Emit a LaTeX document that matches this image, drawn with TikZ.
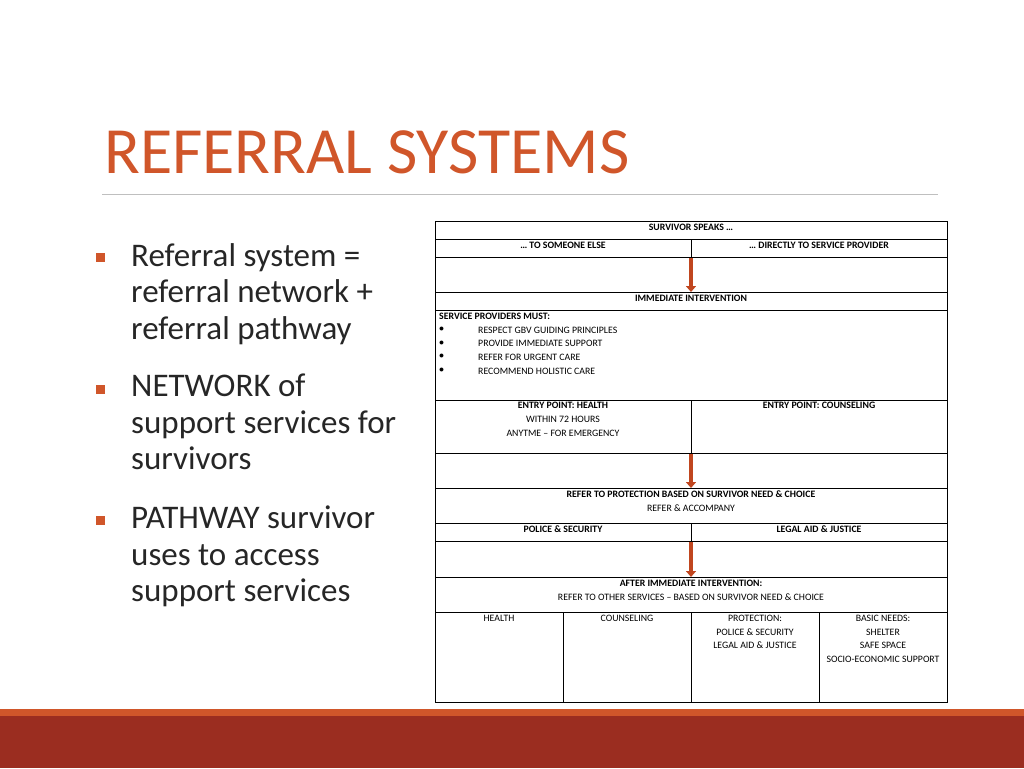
\documentclass[tikz,border=0pt]{standalone}
\usepackage{fontspec}
\setmainfont{Carlito}
\usetikzlibrary{arrows.meta}
\definecolor{titleorange}{HTML}{D0562A}
\definecolor{bandred}{HTML}{9B2D20}
\definecolor{arrowred}{HTML}{C0461F}
\tikzset{
  cellline/.style={line width=1pt, black},
  tab/.style={font=\fontsize{9.8}{13.7}\selectfont, align=center, anchor=north, inner sep=0pt},
  tabb/.style={tab, font=\fontsize{9.8}{13.7}\selectfont\bfseries},
  flow/.style={line width=3.5pt, arrowred, -{Triangle[width=10pt,length=6pt]}},
  bul/.style={fill=titleorange, minimum size=9pt, inner sep=0pt},
  btext/.style={font=\fontsize{33}{36.5}\selectfont, text=black!85, align=left, anchor=north west, inner sep=0pt}
}
\begin{document}
\begin{tikzpicture}[x=1pt,y=-1pt]
    \useasboundingbox (0,0) rectangle (1024,768);
    % title
    \node[anchor=base west, inner sep=0pt, text=titleorange, font=\fontsize{66}{66}\selectfont] (title) at (104,173) {REFERRAL SYSTEMS};
    \draw[black!25, line width=0.8pt] (102,194) -- (938,194);
    % bullets
    \node[bul] (b1) at (100,257) {};
    \node[btext] (t1) at (131,243) {Referral system =\\referral network +\\referral pathway};
    \node[bul] (b2) at (100,389) {};
    \node[btext] (t2) at (131,374) {NETWORK of\\support services for\\survivors};
    \node[bul] (b3) at (100,520) {};
    \node[btext] (t3) at (131,506) {PATHWAY survivor\\uses to access\\support services};
    % table rows
    \draw[cellline] (435,221) rectangle (947,702);
    \foreach \y in {239,257,292,310,400,453,488,523,541,577,612}
        \draw[cellline] (435,\y) -- (947,\y);
    \draw[cellline] (691,239) -- (691,257);
    \draw[cellline] (691,400) -- (691,453);
    \draw[cellline] (691,523) -- (691,541);
    \foreach \x in {563,691,819}
        \draw[cellline] (\x,612) -- (\x,702);
    % cell texts
    \node[tabb] (speaks) at (691,224) {SURVIVOR SPEAKS …};
    \node[tabb] (else) at (563,242) {… TO SOMEONE ELSE};
    \node[tabb] (direct) at (819,242) {… DIRECTLY TO SERVICE PROVIDER};
    \node[tabb] (immed) at (691,295) {IMMEDIATE INTERVENTION};
    \node[tabb, anchor=north west] (must) at (439,313) {SERVICE PROVIDERS MUST:};
    \foreach \t [count=\i] in {RESPECT GBV GUIDING PRINCIPLES,PROVIDE IMMEDIATE SUPPORT,REFER FOR URGENT CARE,RECOMMEND HOLISTIC CARE}{
        \node[tab, anchor=north west] (dot\i) at (439,313+13.7*\i) {$\bullet$};
        \node[tab, anchor=north west] (must\i) at (478,313+13.7*\i) {\t};
    }
    \node[tab] (health) at (563,402) {\textbf{ENTRY POINT: HEALTH}\\WITHIN 72 HOURS\\ANYTME – FOR EMERGENCY};
    \node[tabb] (couns) at (819,402) {ENTRY POINT: COUNSELING};
    \node[tab] (protect) at (691,491) {\textbf{REFER TO PROTECTION BASED ON SURVIVOR NEED \& CHOICE}\\REFER \& ACCOMPANY};
    \node[tabb] (police) at (563,526) {POLICE \& SECURITY};
    \node[tabb] (legal) at (819,526) {LEGAL AID \& JUSTICE};
    \node[tab] (after) at (691,580) {\textbf{AFTER IMMEDIATE INTERVENTION:}\\REFER TO OTHER SERVICES – BASED ON SURVIVOR NEED \& CHOICE};
    \node[tab] (shealth) at (499,615) {HEALTH};
    \node[tab] (scouns) at (627,615) {COUNSELING};
    \node[tab] (sprot) at (755,615) {PROTECTION:\\POLICE \& SECURITY\\LEGAL AID \& JUSTICE};
    \node[tab] (sbasic) at (883,615) {BASIC NEEDS:\\SHELTER\\SAFE SPACE\\SOCIO-ECONOMIC SUPPORT};
    % arrows
    \coordinate (a1) at (691,258); \coordinate (a1e) at (691,292);
    \coordinate (a2) at (691,454); \coordinate (a2e) at (691,488);
    \coordinate (a3) at (691,542); \coordinate (a3e) at (691,577);
    \draw[flow] (a1) -- (a1e);
    \draw[flow] (a2) -- (a2e);
    \draw[flow] (a3) -- (a3e);
    % bottom band
    \fill[titleorange] (0,709) rectangle (1024,716);
    \fill[bandred] (0,716) rectangle (1024,768);
\end{tikzpicture}
\end{document}
